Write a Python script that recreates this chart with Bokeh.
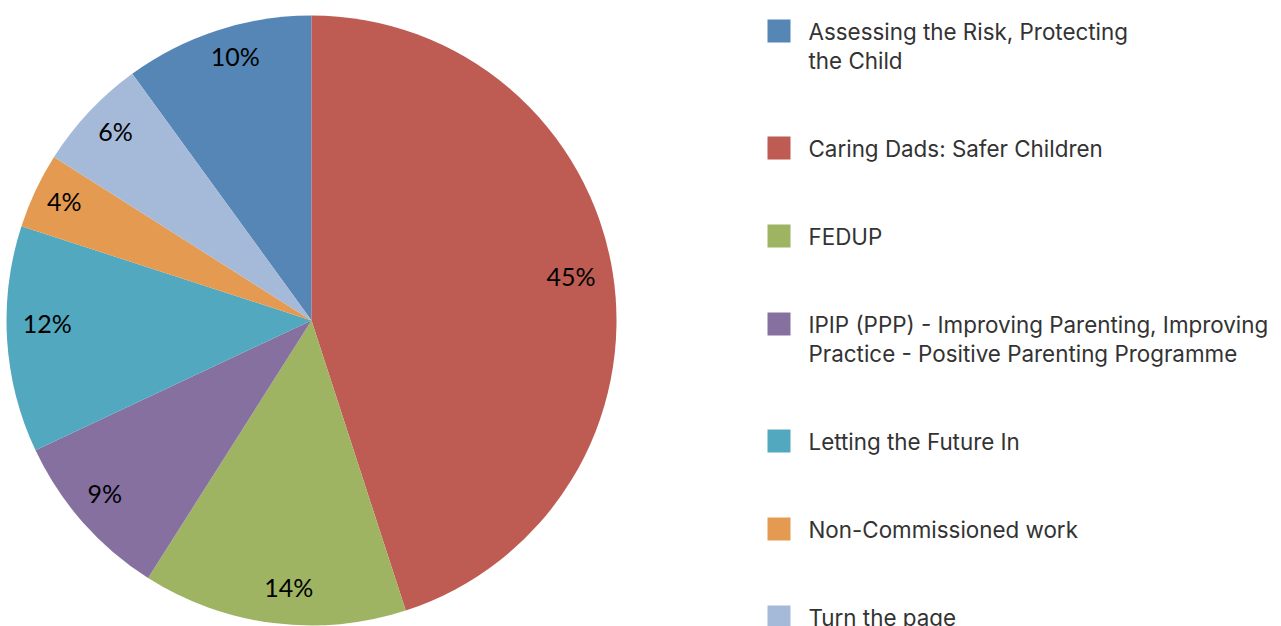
import math
from bokeh.plotting import figure
from bokeh.models import Range1d, ColumnDataSource
from bokeh.embed import file_html
from bokeh.resources import INLINE
from bokeh.core.properties import value

# ---------------- data ----------------
categories = [
    "Assessing the Risk, Protecting\nthe Child",
    "Caring Dads: Safer Children",
    "FEDUP",
    "IPIP (PPP) - Improving Parenting, Improving\nPractice - Positive Parenting Programme",
    "Letting the Future In",
    "Non-Commissioned work",
    "Turn the page",
]
shares = [10, 45, 14, 9, 12, 4, 6]
pct_labels = ["10%", "45%", "14%", "9%", "12%", "4%", "6%"]

# ---------------- style / layout ----------------
colors = ["#5586B6", "#BE5B53", "#9EB462", "#8570A0", "#52A8BE", "#E59A51", "#A5B9D9"]
first_slice_angle = 324          # degrees clockwise from 12 o'clock
# data-label placement (clockwise degrees from 12 o'clock, fraction of radius)
label_angle = [343.9, 80.3, 184.9, 230.2, 269.4, 295.7, 314.0]
label_rfrac = [0.902, 0.863, 0.876, 0.882, 0.866, 0.900, 0.893]

W, H = 1281, 626
cx, cy, R = 311, H - 320, 305

p = figure(width=W, height=H, output_backend="svg", toolbar_location=None,
           x_axis_type=None, y_axis_type=None,
           x_range=Range1d(0, W), y_range=Range1d(0, H),
           min_border=0, outline_line_color=None, background_fill_color="white",
           border_fill_color="white")
p.grid.visible = False

total = float(sum(shares))
starts, ends, lx, ly = [], [], [], []
cum = 0.0
for i, s in enumerate(shares):
    cw0 = first_slice_angle + cum / total * 360.0
    cw1 = first_slice_angle + (cum + s) / total * 360.0
    starts.append(math.radians(90 - cw0))
    ends.append(math.radians(90 - cw1))
    r = label_rfrac[i] * R
    a = math.radians(label_angle[i])
    lx.append(cx + r * math.sin(a))
    ly.append(cy + r * math.cos(a))
    cum += s

src = ColumnDataSource(dict(start=starts, end=ends, color=colors))
p.wedge(x=cx, y=cy, radius=R, start_angle="start", end_angle="end",
        direction="clock", fill_color="color", line_color=None, source=src)

p.text(x=lx, y=ly, text=pct_labels, text_font=value("Lato"), text_font_size="25px",
       text_align="center", text_baseline="middle", text_color="#000000")

# ---------------- legend ----------------
sq_x, sq_size = 778.5, 23
txt_x = 808
item_gap, line_h = 88, 29
sq_y = []
tx, ty, tt = [], [], []
ycur = H - 30.5  # center of first legend square
for name in categories:
    lines = name.split("\n")
    sq_y.append(ycur)
    for j, ln in enumerate(lines):
        tx.append(txt_x)
        ty.append(ycur - j * line_h)
        tt.append(ln)
    ycur -= item_gap + line_h * (len(lines) - 1)

p.rect(x=[sq_x] * len(categories), y=sq_y, width=sq_size, height=sq_size,
       fill_color=colors, line_color=None)
p.text(x=tx, y=ty, text=tt, text_font=value("Inter"), text_font_size="22.4px",
       text_align="left", text_baseline="middle", text_color="#333333")

open("out.html", "w").write(file_html(p, INLINE))
